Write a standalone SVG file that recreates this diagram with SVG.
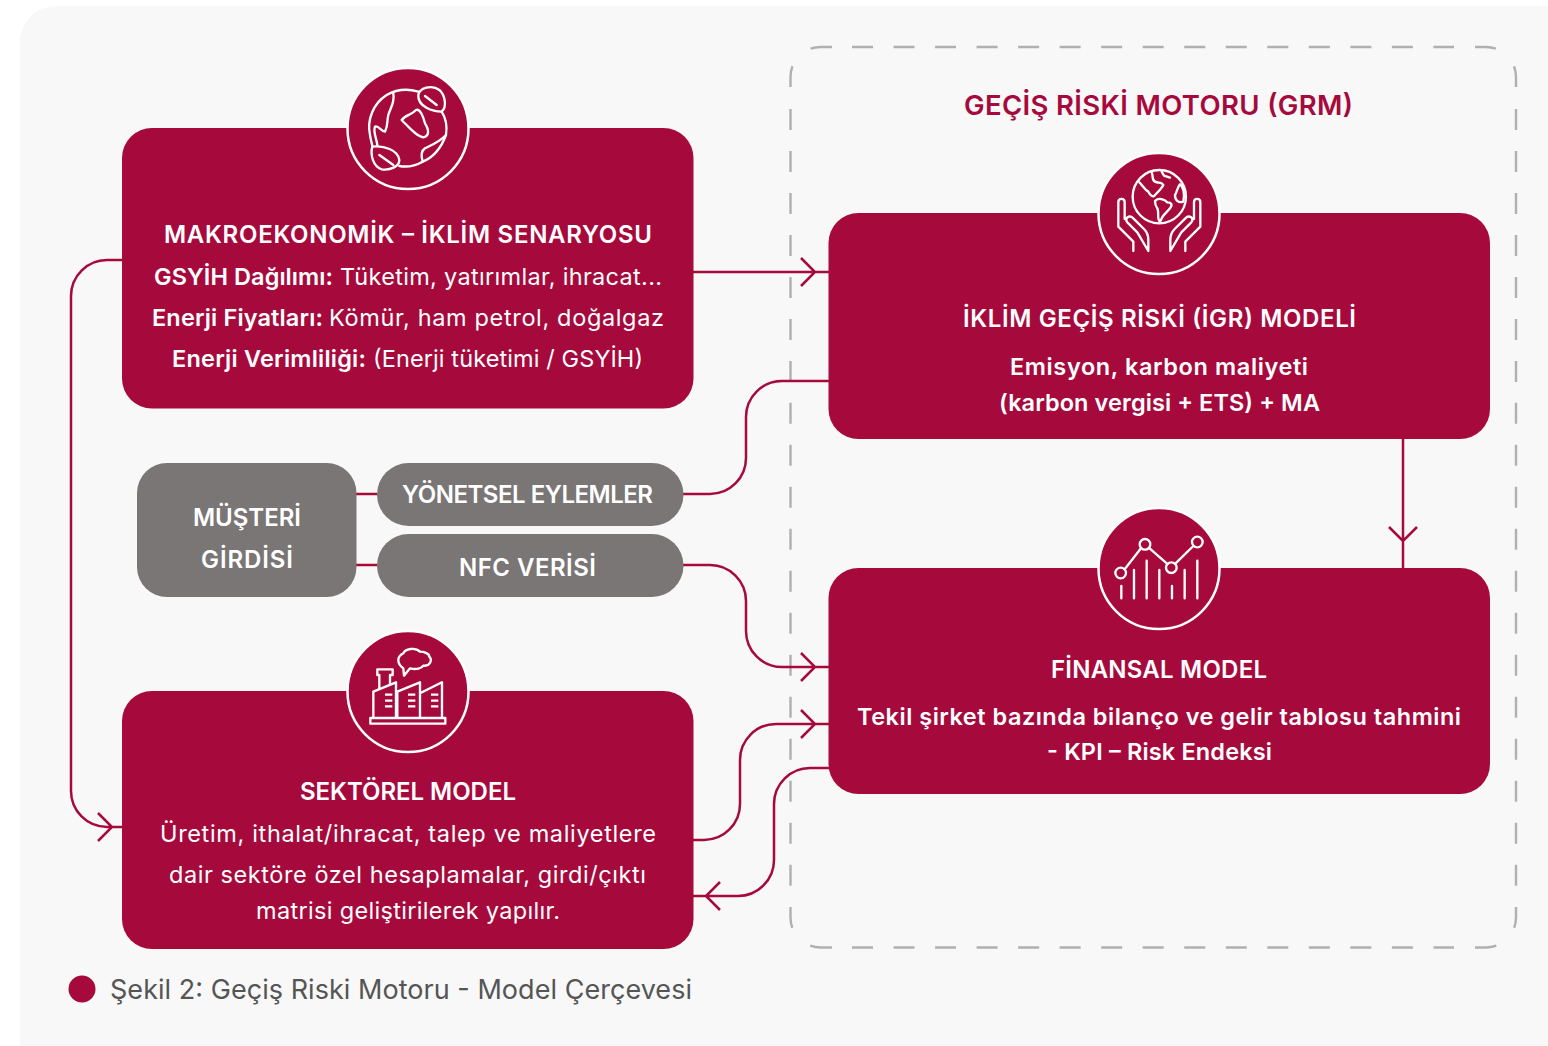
<svg xmlns="http://www.w3.org/2000/svg" width="1548" height="1046" viewBox="0 0 1548 1046">
<style>
text{font-family:"Inter","Noto Sans","Liberation Sans",sans-serif;fill:#fff}
.h{font-size:24px;font-weight:600}
.b{font-size:23.500px;font-weight:600}
.r{font-size:23.500px;font-weight:400}
.box{fill:#a60a3d}
.gray{fill:#7a7676}
.ring{fill:#a60a3d;stroke:#fff;stroke-width:2.5}
.ico{fill:none;stroke:#fff;stroke-width:7;stroke-linecap:round;stroke-linejoin:round}
.c{fill:none;stroke:#a60a3d;stroke-width:2.5}
.f{fill:none;stroke:#b0b0b0;stroke-width:2.4}
</style>
<rect width="1548" height="1046" fill="#fff"/>
<rect x="20" y="6" width="1600" height="1100" rx="36" fill="#f8f8f8"/>
<g id="frame">
<path class="f" stroke-dasharray="21 20.530" d="M852 47H1454M852 947.500H1454"/>
<path class="f" stroke-dasharray="21 20.980" d="M790.500 109V886M1516 109V886"/>
<path class="f" stroke-dasharray="21 26 22" d="M790.500 87V77A30 30 0 0 1 820.500 47H832"/>
<path class="f" stroke-dasharray="21 26 22" d="M1516 87V77A30 30 0 0 0 1486 47H1475"/>
<path class="f" stroke-dasharray="21 26 22" d="M790.500 907V917.500A30 30 0 0 0 820.500 947.500H832"/>
<path class="f" stroke-dasharray="21 26 22" d="M1516 907V917.500A30 30 0 0 1 1486 947.500H1475"/>
</g>
<text x="964" y="115" textLength="389" style="font-size:27.500px;font-weight:600;fill:#a60a3d">GEÇİŞ RİSKİ MOTORU (GRM)</text>
<g id="connectors">
<path class="c" d="M693 272H829M801 258L815 272L801 286"/>
<path class="c" d="M683 494H710A36 36 0 0 0 746 458V417A36 36 0 0 1 782 381H829"/>
<path class="c" d="M683 565H710A36 36 0 0 1 746 601V631A36 36 0 0 0 782 667H829M801 653L815 667L801 681"/>
<path class="c" d="M693 840H704A36 36 0 0 0 740 804V760A36 36 0 0 1 776 724H829M801 710L815 724L801 738"/>
<path class="c" d="M829 768H810A36 36 0 0 0 774 804V860A36 36 0 0 1 738 896H693M720 882L706 896L720 910"/>
<path class="c" d="M122 260H107A36 36 0 0 0 71 296V791A36 36 0 0 0 107 827H122M98 813L112 827L98 841"/>
<path class="c" d="M1403 439V568M1389 527L1403 541L1417 527"/>
<path class="c" d="M356 494H377M356 565H377"/>
</g>
<g id="makro">
<rect class="box" x="122" y="128" width="571.500" height="280.500" rx="30"/>
<circle class="ring" cx="408" cy="128.500" r="60.500"/>
<g class="ico" transform="translate(340 60) scale(.3333)">
<path d="M235 95C205 86 170 88 140 105C100 130 80 180 90 225C92 238 95 248 97 258M305 155C318 175 322 200 318 225M178 318C200 322 225 318 248 305C285 290 305 260 318 225"/>
<path d="M235 105C238 85 275 72 298 90C315 105 322 140 305 155C280 155 232 140 235 105Z"/>
<path d="M255 108L290 135"/>
<path d="M97 260C130 255 175 270 178 300C178 320 150 332 125 328C100 320 90 285 97 260Z"/>
<path d="M118 285L160 315"/>
<path d="M185 180C195 165 215 165 228 150C240 145 250 170 255 190C268 210 268 228 250 232C230 230 210 205 185 180Z"/>
<path d="M160 100C165 130 150 145 145 165C140 185 145 195 135 215C125 215 115 195 105 200C98 215 110 235 112 255"/>
<path d="M318 225C300 245 275 255 255 265C240 275 245 295 248 305"/>
</g>
<text class="h" x="164" y="243" textLength="488">MAKROEKONOMİK – İKLİM SENARYOSU</text>
<text class="b" x="154" y="285" textLength="179">GSYİH Dağılımı:</text>
<text class="r" x="340" y="285" textLength="322">Tüketim, yatırımlar, ihracat...</text>
<text class="b" x="152" y="325.500" textLength="171">Enerji Fiyatları:</text>
<text class="r" x="329" y="325.500" textLength="335">Kömür, ham petrol, doğalgaz</text>
<text class="b" x="172" y="366.500" textLength="194">Enerji Verimliliği:</text>
<text class="r" x="373" y="366.500" textLength="270">(Enerji tüketimi / GSYİH)</text>
</g>
<g id="igr">
<rect class="box" x="828.500" y="213" width="661.500" height="226" rx="30"/>
<circle class="ring" cx="1159" cy="213.500" r="60.500"/>
<g class="ico" transform="translate(1090 145) scale(.3333)">
<circle cx="208" cy="155" r="80"/>
<path d="M148 112C160 125 165 135 175 140C180 150 190 160 195 150C205 140 215 130 220 120C215 110 205 115 195 110C185 105 190 92 185 82"/>
<path d="M215 80L222 92L240 98"/>
<path d="M270 118C280 125 285 145 280 170C265 175 255 165 255 150C262 140 260 130 270 118Z"/>
<path d="M195 168C205 155 225 165 232 172C245 172 248 180 240 190C232 200 222 208 218 215L210 230C200 225 208 200 202 190C196 182 195 175 195 168Z"/>
<path id="hand" d="M130 318V290L85 245V172C85 158 104 158 104 172V222M142 262L112 232C102 220 118 208 130 220L162 252C170 260 175 272 175 285V318Z"/>
<use href="#hand" transform="translate(416 0) scale(-1 1)"/>
</g>
<text class="h" x="963" y="327" textLength="393">İKLİM GEÇİŞ RİSKİ (İGR) MODELİ</text>
<text class="b" x="1010" y="374.500" textLength="298">Emisyon, karbon maliyeti</text>
<text class="b" x="999" y="410.500" textLength="321">(karbon vergisi + ETS) + MA</text>
</g>
<g id="finansal">
<rect class="box" x="828.500" y="568" width="661.500" height="226" rx="30"/>
<circle class="ring" cx="1159" cy="568.500" r="60.500"/>
<g class="ico" transform="translate(1090 500) scale(.3333)">
<circle cx="92" cy="219" r="16"/><circle cx="165" cy="133" r="16"/><circle cx="244" cy="203" r="16"/><circle cx="322" cy="126" r="16"/>
<path d="M104 208L153 145M177 144L232 192M256 191L310 138"/>
<path d="M94 258V295M132 210V295M170 182V295M208 210V295M246 258V295M284 210V295M322 182V295"/>
</g>
<text class="h" x="1051" y="678" textLength="216">FİNANSAL MODEL</text>
<text class="b" x="857" y="724.500" textLength="604">Tekil şirket bazında bilanço ve gelir tablosu tahmini</text>
<text class="b" x="1047" y="760" textLength="225">- KPI – Risk Endeksi</text>
</g>
<g id="musteri">
<rect class="gray" x="137" y="463" width="219.500" height="134" rx="30"/>
<text class="h" x="193" y="526" textLength="108">MÜŞTERİ</text>
<text class="h" x="201" y="568" textLength="92">GİRDİSİ</text>
</g>
<g id="yonetsel">
<rect class="gray" x="377" y="463" width="306.500" height="63" rx="31.500"/>
<text class="h" x="402" y="503" textLength="251">YÖNETSEL EYLEMLER</text>
</g>
<g id="nfc">
<rect class="gray" x="377" y="534" width="306.500" height="63" rx="31.500"/>
<text class="h" x="459" y="576" textLength="137">NFC VERİSİ</text>
</g>
<g id="sektorel">
<rect class="box" x="122" y="691" width="571.500" height="258" rx="30"/>
<circle class="ring" cx="408" cy="691.500" r="60.500"/>
<g class="ico" transform="translate(340 625) scale(.3333)">
<rect x="91" y="279" width="225" height="17"/>
<path d="M100 278V200L168 172V278M172 278V200L240 172V278M240 205L306 172V278"/>
<path d="M118 190V150H112V133H158V150H150V178"/>
<path d="M190 130L192 152L210 130C230 135 245 130 250 122C270 125 278 105 268 95C268 85 250 80 240 80C225 65 195 72 190 85C170 95 170 115 190 130Z"/>
<path style="stroke-linecap:butt" d="M135 209H157M135 227H157M135 244H157M204 209H226M204 227H226M204 244H226M273 209H295M273 227H295M273 244H295"/>
</g>
<text class="h" x="300" y="800" textLength="216">SEKTÖREL MODEL</text>
<text class="r" x="160" y="842" textLength="496">Üretim, ithalat/ihracat, talep ve maliyetlere</text>
<text class="r" x="169" y="883" textLength="477">dair sektöre özel hesaplamalar, girdi/çıktı</text>
<text class="r" x="256" y="919" textLength="304">matrisi geliştirilerek yapılır.</text>
</g>
<g id="caption">
<circle cx="82" cy="989" r="13.500" fill="#a60a3d"/>
<text x="110" y="999" textLength="582" style="font-size:27px;font-weight:400;fill:#555">Şekil 2: Geçiş Riski Motoru - Model Çerçevesi</text>
</g>
</svg>
